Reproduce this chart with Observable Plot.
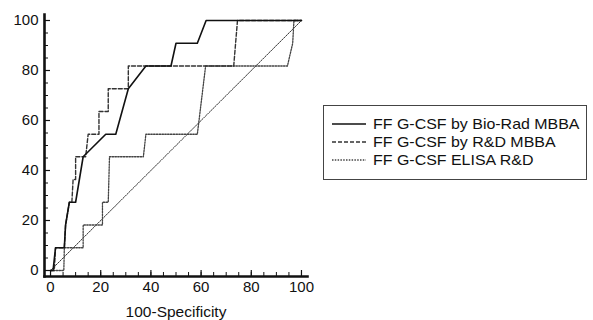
<!DOCTYPE html>
<html>
<head>
<meta charset="utf-8">
<script src="https://cdn.jsdelivr.net/npm/d3@7"></script>
<script src="https://cdn.jsdelivr.net/npm/@observablehq/plot@0.6"></script>
<style>
  body { margin: 0; background: #fff; font-family: "Liberation Sans", Arial, sans-serif; }
  #wrap { position: relative; width: 593px; height: 320px; }
  #legend { position: absolute; left: 323px; top: 105px; width: 264px; height: 75px;
            border: 1px solid #444; box-sizing: border-box; background: #fff; }
  .row { position: absolute; left: 8px; height: 18px; display: flex; align-items: center; }
  .row svg { width: 34px; height: 6px; margin-right: 7px; }
  .row span { font-size: 14.5px; color: #111; display: inline-block; transform: scaleX(1.1); transform-origin: left center; white-space: nowrap; }
</style>
</head>
<body>
<div id="wrap"></div>
<script>
// Series names
const seriesNames = ["FF G-CSF by Bio-Rad MBBA", "FF G-CSF by R&D MBBA", "FF G-CSF ELISA R&D"];

// ROC curve points: 100-Specificity (x), Sensitivity (y)
const bioRadX = [0, 1, 2, 5.5, 6, 7.5, 10, 13, 22, 26, 31, 38, 48, 50, 58.5, 62, 100];
const bioRadY = [0, 0, 9.1, 9.1, 18.2, 27.3, 27.3, 45.5, 54.5, 54.5, 72.7, 81.8, 81.8, 90.9, 90.9, 100, 100];

const rdMbbaX = [0, 1.5, 2, 5.5, 6, 7.5, 8.5, 9, 10, 10, 14, 15, 19.3, 19.3, 23, 23, 31, 31, 73, 74.5, 100];
const rdMbbaY = [0, 0, 9.1, 9.1, 18.2, 27.3, 27.3, 36.4, 36.4, 45.5, 45.5, 54.5, 54.5, 63.6, 63.6, 72.7, 72.7, 81.8, 81.8, 100, 100];

const elisaX = [0, 5.3, 5.5, 13, 13, 20.7, 20.7, 23, 23.5, 37, 38, 58.5, 61.8, 94.4, 96.5, 97, 100];
const elisaY = [0, 0, 9.1, 9.1, 18.2, 18.2, 27.3, 27.3, 45.5, 45.5, 54.5, 54.5, 81.8, 81.8, 90.9, 100, 100];

// Reference diagonal
const diagX = [0, 100];
const diagY = [0, 100];

// Axis ticks
const majorTicks = [0, 20, 40, 60, 80, 100];
const minorTicks = [0, 5, 10, 15, 20, 25, 30, 35, 40, 45, 50, 55, 60, 65, 70, 75, 80, 85, 90, 95, 100];
const xLabel = "100-Specificity";

const toPts = (xs, ys) => xs.map((x, i) => ({x, y: ys[i]}));
const bio = toPts(bioRadX, bioRadY);
const rd = toPts(rdMbbaX, rdMbbaY);
const el = toPts(elisaX, elisaY);
const dg = toPts(diagX, diagY);

const W = 593, H = 320, mL = 44, mR = 286, mT = 14, mB = 44;
const fw = W - mL - mR, fh = H - mT - mB;

const chart = Plot.plot({
  width: W, height: H,
  marginLeft: mL, marginRight: mR, marginTop: mT, marginBottom: mB,
  style: {fontFamily: "Liberation Sans, Arial, sans-serif", background: "#fff", color: "#111"},
  x: {domain: [-2.4, 102.4]},
  y: {domain: [-2.4, 102.4]},
  marks: [
    Plot.line(dg, {x: "x", y: "y", stroke: "#333", strokeWidth: 1, strokeDasharray: "1.5,1.2"}),
    Plot.line(el, {x: "x", y: "y", stroke: "#444", strokeWidth: 1.3, strokeDasharray: "1.5,1.3"}),
    Plot.line(rd, {x: "x", y: "y", stroke: "#333", strokeWidth: 1.4, strokeDasharray: "4,2"}),
    Plot.line(bio, {x: "x", y: "y", stroke: "#111", strokeWidth: 1.6}),
    Plot.tickX(minorTicks, {x: d => d, insetTop: fh - 4, stroke: "#111", strokeWidth: 1}),
    Plot.tickY(minorTicks, {y: d => d, insetRight: fw - 4, stroke: "#111", strokeWidth: 1}),
    Plot.tickX(majorTicks, {x: d => d, insetTop: fh - 6, stroke: "#111", strokeWidth: 1.2}),
    Plot.tickY(majorTicks, {y: d => d, insetRight: fw - 6, stroke: "#111", strokeWidth: 1.2}),
    Plot.frame({anchor: "left", stroke: "#111", strokeWidth: 2.6}),
    Plot.frame({anchor: "bottom", stroke: "#111", strokeWidth: 2.6}),
    Plot.axisY({ticks: majorTicks, tickSize: 0, tickPadding: 6, fontSize: 15, label: null}),
    Plot.axisX({ticks: majorTicks, tickSize: 0, tickPadding: 5, fontSize: 15, label: null}),
    Plot.text([xLabel], {text: d => d, frameAnchor: "bottom", dy: 40, fontSize: 15.5, fill: "#111"})
  ]
});

const wrap = document.getElementById("wrap");
wrap.appendChild(chart);

const legend = document.createElement("div");
legend.id = "legend";
const styles = [
  {dash: null, w: 1.6, c: "#111"},
  {dash: "4,2", w: 1.4, c: "#333"},
  {dash: "1.5,1.3", w: 1.3, c: "#444"}
];
const rowTops = [9, 27, 45];
seriesNames.forEach((name, i) => {
  const row = document.createElement("div");
  row.className = "row";
  row.style.top = rowTops[i] + "px";
  const s = styles[i];
  row.innerHTML = `<svg viewBox="0 0 34 6"><line x1="0" y1="3" x2="34" y2="3" stroke="${s.c}" stroke-width="${s.w}" ${s.dash ? `stroke-dasharray="${s.dash}"` : ""}/></svg><span></span>`;
  row.querySelector("span").textContent = name;
  legend.appendChild(row);
});
wrap.appendChild(legend);
</script>
</body>
</html>
